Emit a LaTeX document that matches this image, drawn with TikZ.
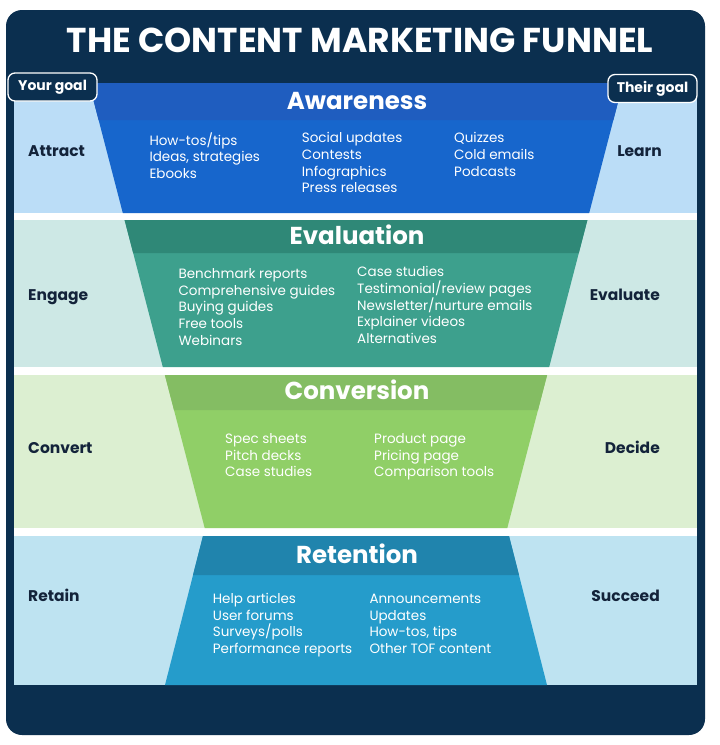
\documentclass[tikz,border=0pt]{standalone}
\usepackage{fontspec}
\setmainfont{Poppins}
\definecolor{navy}{HTML}{0B2F4F}
\definecolor{awH}{HTML}{1F5DBF}
\definecolor{awB}{HTML}{1766CC}
\definecolor{awS}{HTML}{BBDDF7}
\definecolor{evH}{HTML}{2F8877}
\definecolor{evB}{HTML}{3DA08D}
\definecolor{evS}{HTML}{CDE8E5}
\definecolor{cvH}{HTML}{84BD63}
\definecolor{cvB}{HTML}{90CF67}
\definecolor{cvS}{HTML}{DCEFD1}
\definecolor{rtH}{HTML}{2084AD}
\definecolor{rtB}{HTML}{259CCB}
\definecolor{rtS}{HTML}{BEE3F1}
\definecolor{sidetxt}{HTML}{13233A}
\tikzset{
  bodytxt/.style={anchor=base west, inner sep=0pt, text=white, font=\fontsize{13.5}{16}\selectfont},
  sidelbl/.style={inner sep=0pt, text=sidetxt, font=\fontsize{15.5}{18}\selectfont\bfseries},
  hdr/.style={anchor=base, inner sep=0pt, text=white, font=\fontsize{24.5}{28}\selectfont\bfseries},
  pill/.style={draw=white, line width=1.3pt, fill=navy, rounded corners=7pt, minimum width=89pt, minimum height=28pt, inner sep=0pt, text=white, font=\fontsize{14}{16}\selectfont\bfseries},
}
\begin{document}
\begin{tikzpicture}[x=1pt,y=-1pt]
\useasboundingbox (0,0) rectangle (720,745);
\fill[white] (0,0) rectangle (720,745);
\fill[navy, rounded corners=16pt] (6,10) rectangle (705,735);
% side panels
\fill[awS] (14,83) rectangle (697,213);
\fill[evS] (14,220) rectangle (697,367);
\fill[cvS] (14,375) rectangle (697,528);
\fill[rtS] (14,536) rectangle (697,685);
% white gaps
\fill[white] (14,213) rectangle (697,220);
\fill[white] (14,367) rectangle (697,375);
\fill[white] (14,528) rectangle (697,536);
% Awareness funnel
\fill[awB] (89,83) -- (623,83) -- (589.2,213) -- (122.8,213) -- cycle;
\fill[awH] (89,83) -- (623,83) -- (613.4,120) -- (98.6,120) -- cycle;
% Evaluation
\fill[evB] (124.6,220) -- (587.4,220) -- (549.2,367) -- (162.8,367) -- cycle;
\fill[evH] (124.6,220) -- (587.4,220) -- (578.8,253) -- (133.2,253) -- cycle;
% Conversion
\fill[cvB] (164.9,375) -- (547.1,375) -- (507.3,528) -- (204.7,528) -- cycle;
\fill[cvH] (164.9,375) -- (547.1,375) -- (538,410) -- (174,410) -- cycle;
% Retention (widening)
\fill[rtB] (203,536) -- (509,536) -- (547,685) -- (165,685) -- cycle;
\fill[rtH] (203,536) -- (509,536) -- (519,575) -- (193,575) -- cycle;

% title
\node[anchor=base, inner sep=0pt, text=white, font=\fontsize{34.5}{38}\selectfont\bfseries] (title) at (360,52) {THE CONTENT MARKETING FUNNEL};
% pills
\node[pill] (yourgoal) at (52.5,87) {Your goal};
\node[pill] (theirgoal) at (652.5,88.5) {Their goal};

% headers
\node[hdr] (awareness) at (357,109) {Awareness};
\node[hdr] (evaluation) at (357,244) {Evaluation};
\node[hdr] (conversion) at (357,399) {Conversion};
\node[hdr] (retention) at (357,563) {Retention};

% side labels
\node[sidelbl, anchor=base west] (attract) at (28,156.7) {Attract};
\node[sidelbl, anchor=base east] (learn) at (662,156.7) {Learn};
\node[sidelbl, anchor=base west] (engage) at (28,300.7) {Engage};
\node[sidelbl, anchor=base east] (evaluate) at (660,300.7) {Evaluate};
\node[sidelbl, anchor=base west] (convert) at (28,453.3) {Convert};
\node[sidelbl, anchor=base east] (decide) at (660,453.3) {Decide};
\node[sidelbl, anchor=base west] (retain) at (28,601) {Retain};
\node[sidelbl, anchor=base east] (succeed) at (660,601) {Succeed};

% Awareness items
\foreach \t [count=\i] in {How-tos/tips,{Ideas, strategies},Ebooks}
  \node[bodytxt] (awA\i) at (149.3,{145+16.7*(\i-1)}) {\t};
\foreach \t [count=\i] in {Social updates,Contests,Infographics,Press releases}
  \node[bodytxt] (awB\i) at (301.7,{142.7+16.7*(\i-1)}) {\t};
\foreach \t [count=\i] in {Quizzes,Cold emails,Podcasts}
  \node[bodytxt] (awC\i) at (454,{142.7+16.7*(\i-1)}) {\t};
% Evaluation items
\foreach \t [count=\i] in {Benchmark reports,Comprehensive guides,Buying guides,Free tools,Webinars}
  \node[bodytxt] (evA\i) at (178.3,{278.3+16.7*(\i-1)}) {\t};
\foreach \t [count=\i] in {Case studies,Testimonial/review pages,Newsletter/nurture emails,Explainer videos,Alternatives}
  \node[bodytxt] (evB\i) at (357,{276.7+16.7*(\i-1)}) {\t};
% Conversion items
\foreach \t [count=\i] in {Spec sheets,Pitch decks,Case studies}
  \node[bodytxt] (cvA\i) at (225,{443.3+16.7*(\i-1)}) {\t};
\foreach \t [count=\i] in {Product page,Pricing page,Comparison tools}
  \node[bodytxt] (cvB\i) at (374,{443.3+16.7*(\i-1)}) {\t};
% Retention items
\foreach \t [count=\i] in {Help articles,User forums,Surveys/polls,Performance reports}
  \node[bodytxt] (rtA\i) at (212.7,{603.3+16.7*(\i-1)}) {\t};
\foreach \t [count=\i] in {Announcements,Updates,{How-tos, tips},Other TOF content}
  \node[bodytxt] (rtB\i) at (369.3,{603.3+16.7*(\i-1)}) {\t};
\end{tikzpicture}
\end{document}
